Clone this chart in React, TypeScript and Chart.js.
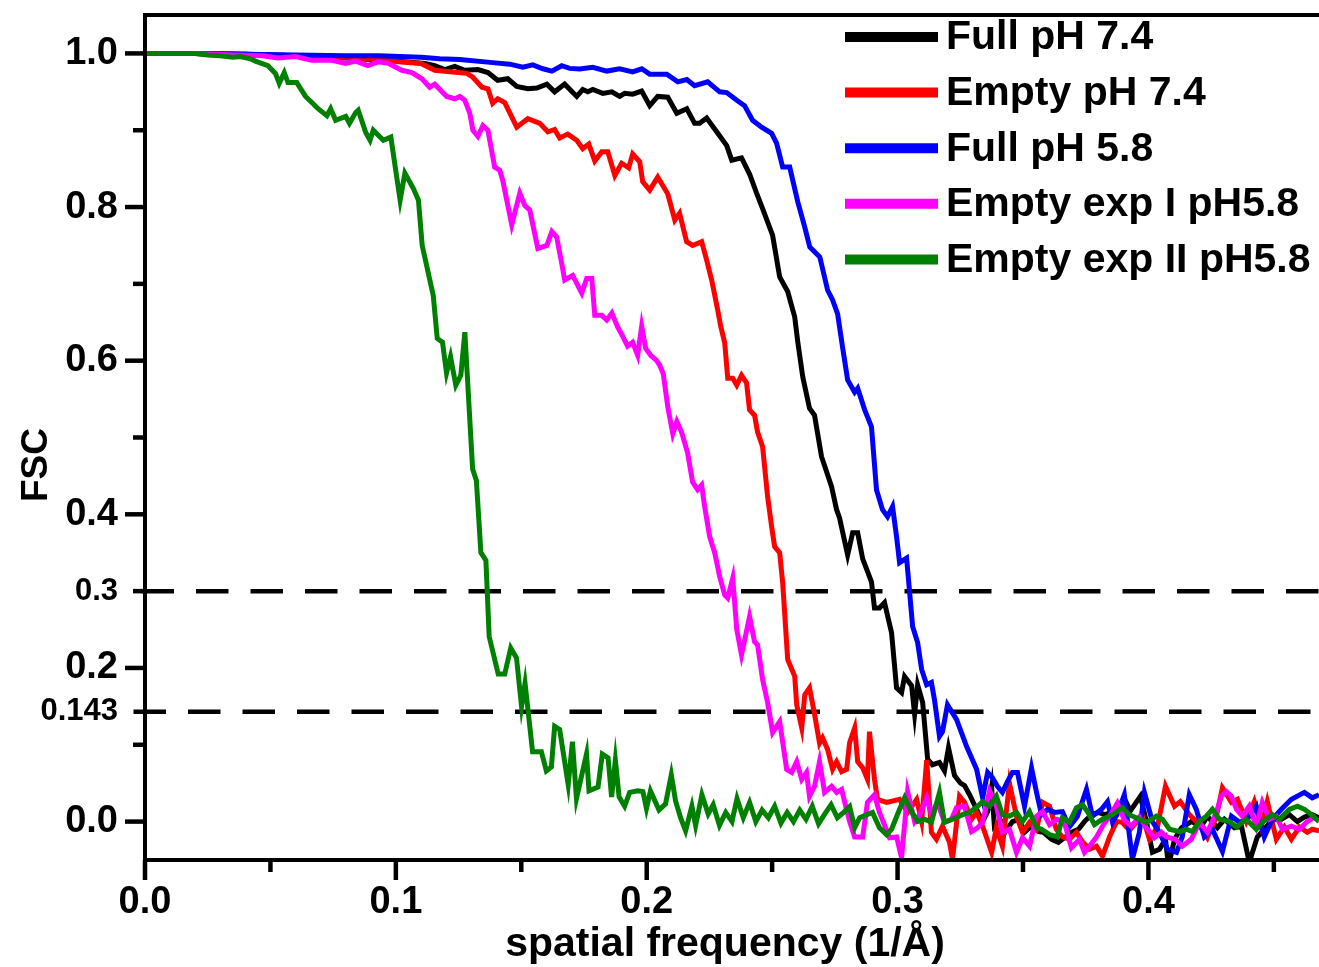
import React, { useEffect, useRef } from "react";
import { Chart, registerables } from "chart.js";

Chart.register(...registerables);

const FONT = '"Liberation Sans", Arial, Helvetica, sans-serif';

const seriesLabels = ["Full pH 7.4", "Empty pH 7.4", "Full pH 5.8", "Empty exp I pH5.8", "Empty exp II pH5.8"];
const seriesColors = ["#000000", "#ff0000", "#0000ff", "#ff00ff", "#008000"];

const xTickValues = [0, 0.1, 0.2, 0.3, 0.4];
const xMinorTicks = [0.05, 0.15, 0.25, 0.35, 0.45];
const yTickValues = [0, 0.2, 0.4, 0.6, 0.8, 1.0];
const yMinorTicks = [0.1, 0.3, 0.5, 0.7, 0.9];
const refLines = [0.3, 0.143];

const xTitle = "spatial frequency (1/Å)";
const yTitle = "FSC";

const fullPh74: number[][] = [
  [0, 1.0], [0.02, 1.0], [0.04, 0.999], [0.06, 0.997], [0.08, 0.994], [0.1, 0.99], [0.1116, 0.987], [0.1155, 0.984],
  [0.1195, 0.979], [0.1235, 0.983], [0.1275, 0.978], [0.1327, 0.979], [0.1367, 0.975], [0.1406, 0.965], [0.1446, 0.967],
  [0.1482, 0.957], [0.1526, 0.954], [0.1562, 0.955], [0.1602, 0.96], [0.1633, 0.95], [0.1673, 0.96], [0.1721, 0.944],
  [0.1745, 0.953], [0.1765, 0.95], [0.1785, 0.953], [0.1825, 0.948], [0.1861, 0.95], [0.1892, 0.944], [0.1912, 0.948],
  [0.1944, 0.947], [0.198, 0.951], [0.2012, 0.932], [0.2044, 0.944], [0.2084, 0.943], [0.212, 0.922], [0.216, 0.928],
  [0.2191, 0.909], [0.2211, 0.909], [0.2239, 0.916], [0.2279, 0.898], [0.2319, 0.88], [0.2339, 0.861], [0.2378, 0.864],
  [0.241, 0.843], [0.2438, 0.818], [0.2462, 0.798], [0.2502, 0.763], [0.253, 0.709], [0.2562, 0.69], [0.259, 0.657],
  [0.2602, 0.625], [0.2622, 0.579], [0.2649, 0.538], [0.2669, 0.529], [0.2697, 0.475], [0.2737, 0.436], [0.2757, 0.406],
  [0.2769, 0.395], [0.2801, 0.347], [0.2821, 0.376], [0.2841, 0.376], [0.2861, 0.342], [0.2896, 0.312], [0.2908, 0.278],
  [0.2928, 0.278], [0.2948, 0.285], [0.2976, 0.246], [0.2996, 0.174], [0.3016, 0.168], [0.3028, 0.189], [0.3056, 0.177],
  [0.3068, 0.14], [0.308, 0.178], [0.31, 0.155], [0.312, 0.081], [0.3139, 0.074], [0.3167, 0.077], [0.3187, 0.066],
  [0.3203, 0.096], [0.3227, 0.06], [0.3251, 0.05], [0.3267, 0.047], [0.3287, 0.035], [0.3315, 0.016], [0.3339, 0.0],
  [0.3359, 0.013], [0.3375, 0.045], [0.3386, -0.006], [0.341, 0.002], [0.343, -0.013], [0.3458, 0.0], [0.3486, 0.003],
  [0.3506, -0.014], [0.3534, -0.006], [0.3562, -0.013], [0.3582, -0.014], [0.3614, -0.023], [0.3641, -0.027],
  [0.3665, -0.021], [0.3693, -0.014], [0.3721, -0.01], [0.3745, 0.0], [0.3773, 0.009], [0.3801, 0.012], [0.3825, 0.009],
  [0.3865, 0.013], [0.3904, 0.03], [0.3928, 0.014], [0.3968, 0.033], [0.3992, 0.0], [0.4016, -0.04], [0.4044, -0.036],
  [0.4068, -0.023], [0.408, -0.058], [0.4104, -0.023], [0.4132, -0.008], [0.4171, 0.0], [0.4211, -0.006], [0.4235, 0.007],
  [0.4275, -0.008], [0.4303, 0.003], [0.4343, -0.008], [0.4371, -0.006], [0.4402, -0.053], [0.4434, -0.02], [0.4462, -0.01],
  [0.4494, 0.003], [0.453, 0.003], [0.4562, 0.009], [0.4594, 0.0], [0.4622, 0.006], [0.4653, 0.009], [0.468, 0.005],
];

const emptyPh74: number[][] = [
  [0, 1.0], [0.02, 1.0], [0.04, 0.999], [0.06, 0.997], [0.08, 0.995], [0.093, 0.992], [0.101, 0.989], [0.11, 0.987],
  [0.1155, 0.978], [0.1215, 0.976], [0.1283, 0.974], [0.1307, 0.969], [0.1343, 0.956], [0.1367, 0.954], [0.1386, 0.935],
  [0.1406, 0.941], [0.1434, 0.936], [0.1482, 0.904], [0.1526, 0.915], [0.1574, 0.909], [0.1606, 0.898], [0.1633, 0.901],
  [0.1653, 0.89], [0.1685, 0.895], [0.1721, 0.887], [0.1745, 0.876], [0.1769, 0.882], [0.1793, 0.86], [0.1821, 0.872],
  [0.1845, 0.872], [0.1873, 0.841], [0.19, 0.857], [0.1928, 0.851], [0.1944, 0.869], [0.1972, 0.859], [0.1984, 0.833],
  [0.2012, 0.822], [0.2044, 0.839], [0.2084, 0.817], [0.2112, 0.783], [0.2131, 0.792], [0.2159, 0.755], [0.2183, 0.75],
  [0.2219, 0.755], [0.2239, 0.731], [0.2259, 0.705], [0.2283, 0.666], [0.2295, 0.645], [0.2311, 0.623], [0.2323, 0.577],
  [0.2343, 0.577], [0.2359, 0.568], [0.2378, 0.581], [0.2398, 0.571], [0.241, 0.536], [0.243, 0.529], [0.2442, 0.507],
  [0.2462, 0.488], [0.2482, 0.423], [0.2498, 0.384], [0.251, 0.358], [0.253, 0.35], [0.2542, 0.311], [0.2562, 0.211],
  [0.259, 0.189], [0.2598, 0.152], [0.2618, 0.122], [0.263, 0.165], [0.2649, 0.174], [0.2669, 0.14], [0.2689, 0.102],
  [0.2701, 0.109], [0.2721, 0.094], [0.2741, 0.068], [0.2757, 0.078], [0.2777, 0.065], [0.2797, 0.068], [0.2809, 0.103],
  [0.2829, 0.122], [0.2841, 0.078], [0.2861, 0.07], [0.288, 0.055], [0.2888, 0.117], [0.2908, 0.055], [0.292, 0.029],
  [0.2956, 0.025], [0.3008, 0.029], [0.304, 0.012], [0.3076, 0.029], [0.3096, 0.0], [0.3116, 0.08], [0.3135, -0.014],
  [0.3155, -0.023], [0.3179, -0.006], [0.3207, -0.027], [0.3219, -0.049], [0.3247, 0.033], [0.3267, 0.025], [0.3295, 0.003],
  [0.3315, 0.012], [0.3339, -0.006], [0.3375, -0.04], [0.3394, -0.008], [0.3418, -0.032], [0.3446, 0.05], [0.3474, 0.007],
  [0.3498, -0.014], [0.3526, -0.001], [0.3554, -0.01], [0.3578, 0.025], [0.3606, 0.02], [0.3633, -0.01], [0.3657, -0.02],
  [0.3685, -0.023], [0.3713, -0.014], [0.3737, -0.026], [0.3765, -0.036], [0.3793, -0.032], [0.3817, -0.045], [0.3845, -0.02],
  [0.3873, 0.0], [0.3896, -0.001], [0.3912, -0.007], [0.3928, -0.01], [0.3952, -0.001], [0.3976, 0.007], [0.4004, -0.023],
  [0.4036, -0.007], [0.4068, 0.046], [0.4104, 0.02], [0.4127, 0.026], [0.4163, 0.009], [0.4195, -0.001], [0.4235, -0.021],
  [0.4271, 0.007], [0.4295, 0.044], [0.4331, 0.025], [0.4355, 0.029], [0.439, 0.0], [0.4422, 0.026], [0.445, -0.007],
  [0.4474, 0.026], [0.451, -0.023], [0.4542, -0.007], [0.457, -0.023], [0.4602, -0.007], [0.4633, -0.014], [0.4653, -0.01],
  [0.468, -0.012],
];

const fullPh58: number[][] = [
  [0, 1.0], [0.02, 1.0], [0.04, 0.999], [0.06, 0.998], [0.08, 0.997], [0.093, 0.997], [0.11, 0.995], [0.1175, 0.993],
  [0.1255, 0.992], [0.1386, 0.988], [0.1454, 0.986], [0.1506, 0.982], [0.1546, 0.985], [0.1586, 0.98], [0.1622, 0.977],
  [0.1661, 0.984], [0.1693, 0.9805], [0.1733, 0.9797], [0.1785, 0.982], [0.1841, 0.977], [0.1892, 0.98], [0.1944, 0.976],
  [0.198, 0.98], [0.2012, 0.973], [0.208, 0.973], [0.2124, 0.963], [0.216, 0.966], [0.2191, 0.958], [0.2243, 0.963],
  [0.2291, 0.95], [0.2319, 0.949], [0.2359, 0.939], [0.239, 0.932], [0.2422, 0.913], [0.2458, 0.904], [0.2498, 0.896],
  [0.2518, 0.883], [0.2542, 0.852], [0.257, 0.852], [0.2602, 0.807], [0.263, 0.774], [0.265, 0.748], [0.269, 0.735],
  [0.2721, 0.692], [0.2741, 0.679], [0.2761, 0.661], [0.2781, 0.617], [0.2801, 0.575], [0.2829, 0.559], [0.2841, 0.564],
  [0.2869, 0.536], [0.2896, 0.514], [0.2916, 0.432], [0.294, 0.406], [0.296, 0.397], [0.298, 0.41], [0.2996, 0.371],
  [0.3008, 0.337], [0.3036, 0.343], [0.3048, 0.299], [0.306, 0.254], [0.308, 0.233], [0.3096, 0.198], [0.3116, 0.178],
  [0.3135, 0.181], [0.3147, 0.159], [0.3167, 0.111], [0.3179, 0.117], [0.3199, 0.152], [0.3235, 0.133], [0.3275, 0.098],
  [0.3315, 0.068], [0.3339, 0.031], [0.3359, 0.064], [0.3378, 0.057], [0.3398, 0.046], [0.3418, 0.038], [0.3438, 0.052],
  [0.3458, 0.064], [0.3478, 0.064], [0.3506, 0.02], [0.3534, 0.07], [0.3554, 0.038], [0.3574, 0.009], [0.3598, 0.016],
  [0.3625, 0.012], [0.3657, 0.013], [0.3685, -0.007], [0.3717, 0.007], [0.3753, 0.042], [0.3777, 0.007], [0.3813, 0.016],
  [0.3837, 0.026], [0.3857, -0.001], [0.3876, 0.01], [0.3904, 0.035], [0.3936, -0.049], [0.3964, -0.014], [0.3984, 0.038],
  [0.4016, 0.0], [0.4044, -0.014], [0.4076, -0.036], [0.4112, -0.04], [0.4135, -0.02], [0.4163, 0.035], [0.4191, 0.016],
  [0.4223, -0.02], [0.4255, -0.01], [0.4295, -0.039], [0.4331, 0.007], [0.4363, -0.001], [0.4394, 0.003], [0.443, 0.02],
  [0.4462, -0.02], [0.4494, 0.003], [0.453, 0.016], [0.457, 0.029], [0.4622, 0.038], [0.4653, 0.031], [0.468, 0.035],
];

const emptyExpI: number[][] = [
  [0, 1.0], [0.02, 1.0], [0.027, 0.999], [0.035, 0.998], [0.047, 0.997], [0.053, 0.994], [0.06, 0.996], [0.0665, 0.991],
  [0.0745, 0.991], [0.08, 0.987], [0.084, 0.99], [0.0888, 0.984], [0.093, 0.989], [0.097, 0.987], [0.1024, 0.978],
  [0.1064, 0.975], [0.1104, 0.967], [0.1135, 0.956], [0.1155, 0.96], [0.1203, 0.944], [0.1235, 0.941], [0.1255, 0.944],
  [0.1275, 0.939], [0.1295, 0.922], [0.1307, 0.9], [0.1327, 0.892], [0.1347, 0.906], [0.1367, 0.9], [0.1394, 0.852],
  [0.1414, 0.848], [0.1426, 0.835], [0.1462, 0.777], [0.1494, 0.818], [0.1514, 0.802], [0.1534, 0.796], [0.1566, 0.746],
  [0.1602, 0.75], [0.1622, 0.768], [0.1641, 0.761], [0.1661, 0.727], [0.1673, 0.705], [0.1705, 0.711], [0.1741, 0.688],
  [0.1761, 0.707], [0.1781, 0.707], [0.1793, 0.659], [0.1821, 0.659], [0.1841, 0.653], [0.1861, 0.662], [0.1884, 0.644],
  [0.1904, 0.632], [0.1924, 0.619], [0.1944, 0.624], [0.1964, 0.607], [0.198, 0.645], [0.1996, 0.616], [0.2016, 0.607],
  [0.204, 0.6], [0.2052, 0.594], [0.2066, 0.583], [0.2084, 0.54], [0.2104, 0.505], [0.212, 0.521], [0.2139, 0.507],
  [0.2163, 0.48], [0.2183, 0.442], [0.2203, 0.432], [0.2219, 0.438], [0.2231, 0.41], [0.2251, 0.371], [0.2271, 0.35],
  [0.2291, 0.319], [0.2311, 0.295], [0.2323, 0.291], [0.2343, 0.317], [0.2359, 0.25], [0.2378, 0.217], [0.241, 0.267],
  [0.243, 0.234], [0.2442, 0.23], [0.2462, 0.185], [0.2482, 0.155], [0.2502, 0.116], [0.253, 0.13], [0.2558, 0.068],
  [0.2578, 0.064], [0.2598, 0.078], [0.2618, 0.055], [0.2637, 0.064], [0.2649, 0.033], [0.2669, 0.046], [0.2689, 0.078],
  [0.2709, 0.038], [0.2737, 0.046], [0.2757, 0.038], [0.2777, 0.042], [0.2797, 0.015], [0.2809, 0.0], [0.2829, -0.02],
  [0.2861, -0.02], [0.288, 0.025], [0.2908, 0.035], [0.2928, 0.012], [0.2968, -0.021], [0.2996, -0.02], [0.3016, -0.047],
  [0.304, 0.039], [0.3068, 0.0], [0.3088, 0.009], [0.3116, 0.031], [0.3135, 0.009], [0.3159, 0.025], [0.3187, -0.001],
  [0.3215, 0.003], [0.3235, 0.018], [0.3267, 0.02], [0.3295, -0.013], [0.3319, -0.008], [0.3339, -0.001], [0.3367, 0.04],
  [0.3394, 0.02], [0.3418, -0.014], [0.3446, -0.01], [0.3474, -0.04], [0.3498, -0.021], [0.3526, -0.032], [0.3554, 0.007],
  [0.3578, 0.013], [0.3606, -0.004], [0.3637, 0.003], [0.3665, -0.001], [0.3693, -0.034], [0.3725, -0.023], [0.3745, -0.04],
  [0.3765, -0.032], [0.3793, -0.02], [0.3817, -0.006], [0.3853, 0.011], [0.3876, 0.024], [0.3904, 0.002], [0.3932, -0.006],
  [0.3964, 0.006], [0.3996, -0.01], [0.4024, -0.021], [0.4052, -0.014], [0.4072, -0.02], [0.4108, -0.023], [0.4135, -0.032],
  [0.4171, -0.023], [0.4203, -0.001], [0.4235, -0.014], [0.4271, 0.012], [0.4291, 0.033], [0.4311, 0.039], [0.4331, 0.033],
  [0.4351, 0.016], [0.4374, 0.007], [0.4402, 0.02], [0.443, -0.006], [0.4454, 0.025], [0.4482, 0.003], [0.451, 0.007],
  [0.4534, -0.01], [0.457, -0.006], [0.4602, -0.01], [0.4633, 0.0], [0.4669, 0.007],
];

const emptyExpII: number[][] = [
  [0, 1.0], [0.01, 1.0], [0.02, 1.0], [0.025, 0.998], [0.03, 0.997], [0.035, 0.995], [0.038, 0.996], [0.042, 0.993],
  [0.044, 0.99], [0.049, 0.984], [0.052, 0.974], [0.0535, 0.961], [0.0555, 0.975], [0.057, 0.962], [0.0605, 0.962],
  [0.064, 0.944], [0.0665, 0.936], [0.069, 0.928], [0.0725, 0.919], [0.074, 0.928], [0.076, 0.913], [0.08, 0.918],
  [0.0815, 0.909], [0.084, 0.923], [0.085, 0.926], [0.088, 0.897], [0.0897, 0.887], [0.091, 0.9], [0.095, 0.887],
  [0.098, 0.891], [0.1017, 0.809], [0.1036, 0.844], [0.107, 0.824], [0.109, 0.809], [0.1105, 0.75], [0.1149, 0.685],
  [0.1165, 0.629], [0.1186, 0.624], [0.1202, 0.584], [0.1218, 0.605], [0.1239, 0.568], [0.1259, 0.581], [0.1275, 0.637],
  [0.1306, 0.459], [0.1321, 0.444], [0.1339, 0.35], [0.1359, 0.34], [0.1372, 0.241], [0.1408, 0.192], [0.1434, 0.192],
  [0.1458, 0.226], [0.1481, 0.213], [0.1501, 0.15], [0.1515, 0.18], [0.1545, 0.091], [0.158, 0.091], [0.16, 0.066],
  [0.162, 0.071], [0.1633, 0.124], [0.1653, 0.12], [0.1687, 0.048], [0.1704, 0.104], [0.172, 0.03], [0.176, 0.088],
  [0.177, 0.04], [0.1806, 0.045], [0.1823, 0.088], [0.1846, 0.083], [0.186, 0.032], [0.1875, 0.08], [0.189, 0.032],
  [0.1912, 0.02], [0.1932, 0.038], [0.1965, 0.04], [0.1985, 0.039], [0.1999, 0.017], [0.2015, 0.04], [0.2049, 0.015],
  [0.2075, 0.023], [0.2098, 0.061], [0.2115, 0.027], [0.2135, 0.005], [0.2155, -0.012], [0.218, 0.02], [0.2195, -0.005],
  [0.222, 0.035], [0.2245, 0.01], [0.2265, 0.022], [0.229, -0.005], [0.2315, 0.012], [0.234, 0.0], [0.236, 0.03],
  [0.2385, 0.005], [0.241, 0.025], [0.2435, 0.0], [0.246, 0.015], [0.2485, 0.005], [0.251, 0.02], [0.2535, -0.002],
  [0.256, 0.012], [0.2585, 0.0], [0.261, 0.015], [0.2635, 0.003], [0.266, 0.02], [0.2685, -0.003], [0.271, 0.01],
  [0.2735, 0.022], [0.276, 0.005], [0.2785, 0.012], [0.2809, 0.0195], [0.2829, -0.008], [0.2849, 0.005], [0.29, 0.012],
  [0.2928, -0.008], [0.2956, -0.017], [0.2976, -0.01], [0.3008, 0.016], [0.3028, 0.031], [0.3056, 0.013], [0.308, 0.0],
  [0.3108, 0.003], [0.3135, -0.001], [0.3167, 0.038], [0.3187, -0.001], [0.3219, 0.003], [0.3259, 0.009], [0.3287, 0.012],
  [0.3319, 0.02], [0.3339, 0.026], [0.3367, 0.02], [0.3394, 0.033], [0.3418, 0.009], [0.3446, 0.007], [0.3474, 0.012],
  [0.3498, 0.0], [0.3526, 0.013], [0.3554, -0.008], [0.3574, -0.01], [0.3606, -0.017], [0.3637, -0.02], [0.3657, 0.005],
  [0.3685, -0.001], [0.3713, 0.018], [0.3737, 0.022], [0.3757, 0.013], [0.3785, -0.004], [0.3817, 0.003], [0.3857, 0.009],
  [0.3896, 0.018], [0.3924, 0.009], [0.3964, 0.003], [0.3992, -0.001], [0.4032, 0.007], [0.4056, 0.003], [0.4084, -0.01],
  [0.4124, -0.013], [0.4151, -0.01], [0.4175, -0.013], [0.4203, 0.0], [0.4231, 0.007], [0.4255, 0.016], [0.4283, 0.003],
  [0.4323, 0.0], [0.4351, -0.007], [0.439, 0.003], [0.443, -0.01], [0.4454, -0.001], [0.4494, 0.009], [0.4522, 0.003],
  [0.4562, 0.016], [0.4594, 0.02], [0.4622, 0.016], [0.465, 0.009], [0.468, 0.0],
];

const seriesData = [fullPh74, emptyPh74, fullPh58, emptyExpI, emptyExpII];

const framePlugin = {
  id: "fscFrame",
  beforeDatasetsDraw(chart: any) {
    const { ctx, chartArea: a, scales } = chart;
    const y = scales.y;
    ctx.save();
    ctx.strokeStyle = "#000";
    ctx.lineWidth = 4.5;
    ctx.setLineDash([32.5, 22]);
    refLines.forEach((v, i) => {
      const py = y.getPixelForValue(v);
      const startX = i === 0 ? a.left - 3.5 : a.left - 11.5;
      ctx.beginPath();
      ctx.moveTo(startX, py);
      ctx.lineTo(a.right + 2, py);
      ctx.stroke();
    });
    ctx.restore();
  },
  afterDatasetsDraw(chart: any) {
    const { ctx, chartArea: a, scales } = chart;
    const x = scales.x;
    const y = scales.y;
    ctx.save();
    ctx.setLineDash([]);
    ctx.strokeStyle = "#000";
    ctx.lineCap = "butt";
    // axes frame
    ctx.lineWidth = 4;
    ctx.beginPath();
    ctx.moveTo(a.left, a.top - 2);
    ctx.lineTo(a.left, a.bottom + 2);
    ctx.stroke();
    ctx.beginPath();
    ctx.moveTo(a.left - 2, a.bottom);
    ctx.lineTo(a.right, a.bottom);
    ctx.stroke();
    ctx.beginPath();
    ctx.moveTo(a.left - 2, a.top);
    ctx.lineTo(a.right, a.top);
    ctx.stroke();
    // ticks
    ctx.lineWidth = 4.5;
    yTickValues.forEach((v) => {
      const py = y.getPixelForValue(v);
      ctx.beginPath();
      ctx.moveTo(a.left - 20, py);
      ctx.lineTo(a.left, py);
      ctx.stroke();
    });
    yMinorTicks.forEach((v) => {
      const py = y.getPixelForValue(v);
      ctx.beginPath();
      ctx.moveTo(a.left - 12, py);
      ctx.lineTo(a.left, py);
      ctx.stroke();
    });
    xTickValues.forEach((v) => {
      const px = x.getPixelForValue(v);
      ctx.beginPath();
      ctx.moveTo(px, a.bottom);
      ctx.lineTo(px, a.bottom + 20);
      ctx.stroke();
    });
    xMinorTicks.forEach((v) => {
      const px = x.getPixelForValue(v);
      ctx.beginPath();
      ctx.moveTo(px, a.bottom);
      ctx.lineTo(px, a.bottom + 12);
      ctx.stroke();
    });
    // legend
    chart.data.datasets.forEach((ds: any, i: number) => {
      const cy = 37 + i * 55.6;
      ctx.strokeStyle = ds.borderColor;
      ctx.lineWidth = 10;
      ctx.beginPath();
      ctx.moveTo(845, cy);
      ctx.lineTo(938, cy);
      ctx.stroke();
      ctx.fillStyle = "#000";
      ctx.font = `bold 41px ${FONT}`;
      ctx.textAlign = "left";
      ctx.textBaseline = "middle";
      ctx.fillText(ds.label, 946, cy + 1);
    });
    // axis titles
    ctx.fillStyle = "#000";
    ctx.font = `bold 41px ${FONT}`;
    ctx.textAlign = "center";
    ctx.textBaseline = "alphabetic";
    ctx.fillText(xTitle, 725, 956);
    ctx.save();
    ctx.translate(47, 465);
    ctx.rotate(-Math.PI / 2);
    ctx.font = `bold 37px ${FONT}`;
    ctx.fillText(yTitle, 0, 0);
    ctx.restore();
    ctx.restore();
  },
};

export default function App() {
  const canvasRef = useRef<HTMLCanvasElement | null>(null);

  useEffect(() => {
    if (!canvasRef.current) return;
    const datasets = seriesData.map((s, i) => ({
      label: seriesLabels[i],
      data: s.map(([xv, yv]) => ({ x: xv, y: yv })),
      borderColor: seriesColors[i],
      backgroundColor: seriesColors[i],
      borderWidth: 5,
      pointRadius: 0,
      tension: 0,
      fill: false,
      order: seriesData.length - i,
    }));
    const chart = new Chart(canvasRef.current, {
      type: "line",
      data: { datasets },
      plugins: [framePlugin],
      options: {
        animation: false,
        responsive: false,
        devicePixelRatio: 1,
        layout: { padding: { top: 15, right: 0, bottom: 0, left: 0 } },
        plugins: { legend: { display: false }, tooltip: { enabled: false } },
        scales: {
          x: {
            type: "linear",
            min: 0,
            max: 0.468,
            grid: { display: false, drawTicks: false },
            border: { display: false },
            afterBuildTicks: (s: any) => {
              s.ticks = xTickValues.map((v) => ({ value: v }));
            },
            afterFit: (s: any) => {
              s.height = 107;
              s.paddingLeft = 0;
              s.paddingRight = 0;
              s.paddingTop = 0;
              s.paddingBottom = 0;
            },
            ticks: {
              autoSkip: false,
              maxRotation: 0,
              padding: 20,
              color: "#000",
              font: { family: FONT, size: 38, weight: "bold" },
              callback: (v: any) => Number(v).toFixed(1),
            },
          },
          y: {
            type: "linear",
            min: -0.05,
            max: 1.05,
            grid: { display: false, drawTicks: false },
            border: { display: false },
            afterBuildTicks: (s: any) => {
              s.ticks = [...yTickValues, ...refLines].sort((p, q) => p - q).map((v) => ({ value: v }));
            },
            afterFit: (s: any) => {
              s.width = 145;
              s.paddingLeft = 0;
              s.paddingRight = 0;
              s.paddingTop = 0;
              s.paddingBottom = 0;
            },
            ticks: {
              autoSkip: false,
              padding: 27,
              color: "#000",
              font: (c: any) => ({
                family: FONT,
                weight: "bold",
                size: c.tick && refLines.includes(c.tick.value) ? 31 : 38,
              }),
              callback: (v: any) => (Number(v) === 0.143 ? "0.143" : Number(v).toFixed(1)),
            },
          },
        },
      } as any,
    });
    return () => chart.destroy();
  }, []);

  return (
    <div style={{ position: "absolute", left: 0, top: 0, width: 1319, height: 967, background: "#fff" }}>
      <canvas ref={canvasRef} width={1319} height={967} style={{ display: "block" }} />
    </div>
  );
}
